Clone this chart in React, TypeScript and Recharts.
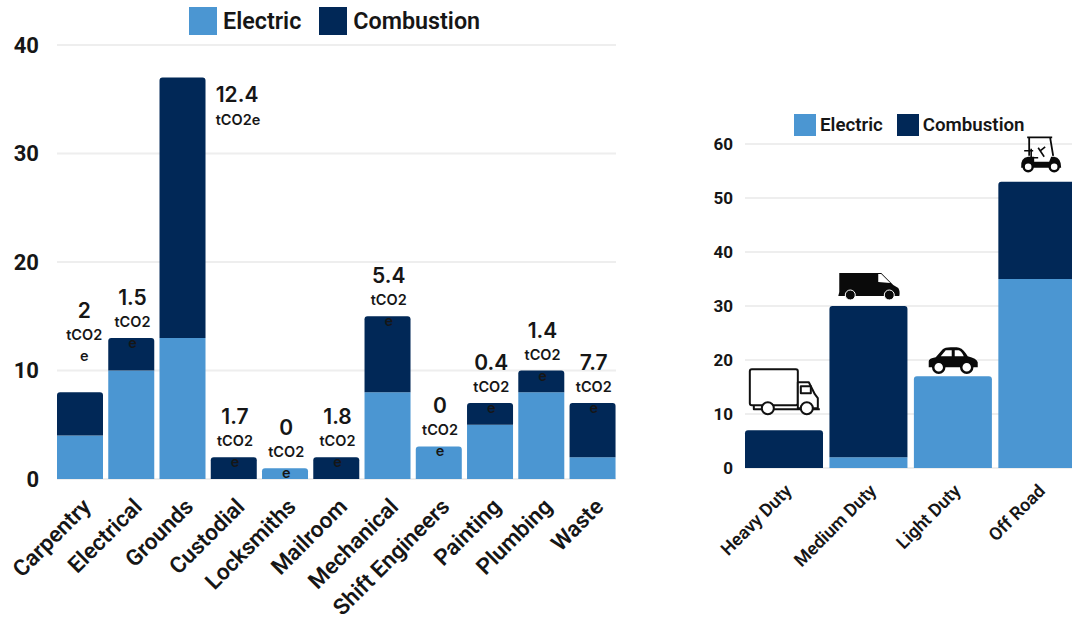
import { Bar, CartesianGrid, ComposedChart, LabelList, Line, Rectangle, XAxis, YAxis } from "recharts"

const ELECTRIC = "#4b96d2"
const COMBUSTION = "#012857"
const INK = "#161616"
const GRID = "#eeeeee"
const FONT = "Roboto, sans-serif"
const LABEL_FONT = "Inter, sans-serif"

// Shops: vehicle counts by powertrain plus emissions per shop
const shops = ["Carpentry", "Electrical", "Grounds", "Custodial", "Locksmiths", "Mailroom", "Mechanical", "Shift Engineers", "Painting", "Plumbing", "Waste"]
const shopElectric = [4, 10, 13, 0, 1, 0, 8, 3, 5, 8, 2]
const shopCombustion = [4, 3, 24, 2, 0, 2, 7, 0, 2, 2, 5]
const shopEmissions = ["2", "1.5", "12.4", "1.7", "0", "1.8", "5.4", "0", "0.4", "1.4", "7.7"]
const shopTicks = [0, 10, 20, 30, 40]

// Fleet by duty class
const duties = ["Heavy Duty", "Medium Duty", "Light Duty", "Off Road"]
const dutyElectric = [0, 2, 17, 35]
const dutyCombustion = [7, 28, 0, 18]
const dutyTicks = [0, 10, 20, 30, 40, 50, 60]

const shopRows = shops.map((name, i) => ({
	name,
	electric: shopElectric[i],
	combustion: shopCombustion[i],
	total: shopElectric[i] + shopCombustion[i],
	emissions: shopEmissions[i],
}))
const dutyRows = duties.map((name, i) => ({
	name,
	electric: dutyElectric[i],
	combustion: dutyCombustion[i],
	total: dutyElectric[i] + dutyCombustion[i],
}))

// Electric sits under combustion, so it only gets a rounded top when nothing is stacked on it
function ElectricShape(props: any) {
	const r = props.payload.combustion === 0 ? 3 : 0
	return <Rectangle {...props} radius={[r, r, 0, 0]} />
}

function LegendRow({ size, fontSize, gap, textGap }: { size: number; fontSize: number; gap: number; textGap: number }) {
	const items = [
		{ label: "Electric", color: ELECTRIC },
		{ label: "Combustion", color: COMBUSTION },
	]
	return (
		<div style={{ display: "flex", alignItems: "center", gap, fontFamily: FONT, fontWeight: 600, fontSize, color: INK }}>
			{items.map((it) => (
				<div key={it.label} style={{ display: "flex", alignItems: "center", gap: textGap }}>
					<span style={{ width: size, height: size, background: it.color, display: "block" }} />
					<span>{it.label}</span>
				</div>
			))}
		</div>
	)
}

function rotatedTick(fontSize: number, dx: number, dy: number) {
	return (props: any) => (
		<text
			x={props.x + dx}
			y={props.y + dy}
			transform={`rotate(-45 ${props.x + dx} ${props.y + dy})`}
			textAnchor="end"
			fontFamily={FONT}
			fontWeight={600}
			fontSize={fontSize}
			fill={INK}
		>
			{props.payload.value}
		</text>
	)
}

// Emissions note above each stack; narrow columns wrap the unit onto two lines
function EmissionsLabel(props: any) {
	const { x, y, value, index } = props
	const name = shops[index]
	const big = { fontFamily: LABEL_FONT, fontWeight: 600, fontSize: 21, fill: INK }
	const small = { fontFamily: LABEL_FONT, fontWeight: 600, fontSize: 14.5, fill: INK }
	if (name === "Grounds") {
		return (
			<g>
				<text x={x + 33} y={y + 24} {...big}>{value}</text>
				<text x={x + 33} y={y + 47} {...small}>tCO2e</text>
			</g>
		)
	}
	// Carpentry's note clears the neighbouring column's label
	const lift = name === "Carpentry" ? 41 : 0
	const cx = x + (name === "Carpentry" ? 4 : 1)
	return (
		<g textAnchor="middle">
			<text x={cx} y={y - 33 - lift} {...big}>{value}</text>
			<text x={cx} y={y - 11 - lift} {...small}>tCO2</text>
			<text x={cx} y={y + 10 - lift} {...small}>e</text>
		</g>
	)
}

function TruckIcon() {
	return (
		<g fill="#fff" stroke="#111" strokeWidth={2} strokeLinejoin="round">
			<rect x={-34} y={-61} width={48} height={36} rx={2} />
			<path d="M14 -48 H25 L31 -36 L34 -32 V-22 H14 Z" />
			<rect x={17} y={-44} width={10} height={7} />
			<path d="M-30 -25 V-21 H36" fill="none" />
			<circle cx={-16} cy={-22} r={6} />
			<circle cx={23} cy={-22} r={6} />
		</g>
	)
}

function VanIcon() {
	return (
		<g fill="#0a0a0a">
			<path d="M-29 -33 H13 L25 -21 L30 -18 Q32 -15 31 -10 H-30 L-29 -14 Z" />
			<path d="M10 -32 H13 L22 -23 L10 -24 Z" fill="#fff" />
			<circle cx={-18} cy={-11} r={5} stroke="#fff" strokeWidth={1} />
			<circle cx={21} cy={-11} r={5} stroke="#fff" strokeWidth={1} />
		</g>
	)
}

function CarIcon() {
	return (
		<g>
			<path d="M-24 -9 V-15 Q-24 -18 -17 -19 L-10 -27 Q-8 -29 -2 -29 H4 Q9 -29 13 -23 L15 -20 Q24 -18 25 -14 V-9 Z" fill="#0a0a0a" />
			<path d="M-12 -20 L-7 -26 H-1 V-20 Z M2 -26 H6 Q9 -25 11 -20 H2 Z" fill="#fff" />
			<circle cx={-14} cy={-9} r={5.5} fill="#fff" stroke="#0a0a0a" strokeWidth={2.5} />
			<circle cx={14} cy={-9} r={5.5} fill="#fff" stroke="#0a0a0a" strokeWidth={2.5} />
		</g>
	)
}

function CartIcon() {
	return (
		<g transform="translate(3 0)">
			<path d="M-13 -44.5 H12 M-11 -44 V-26 M10 -44 L13 -26" stroke="#0a0a0a" strokeWidth={1.8} fill="none" />
			<path d="M-16 -31 H-7 M-9 -33 V-24 H-2 M-2 -34 L4 -25 M0 -31 L5 -35" stroke="#0a0a0a" strokeWidth={1.6} fill="none" />
			<path d="M-19 -14 Q-20 -24 -12 -25 H-6 V-20 H9 L11 -25 H14 Q21 -24 21 -14 Z" fill="#0a0a0a" />
			<circle cx={-12} cy={-15} r={4.5} fill="#fff" stroke="#0a0a0a" strokeWidth={2.4} />
			<circle cx={14} cy={-15} r={4.5} fill="#fff" stroke="#0a0a0a" strokeWidth={2.4} />
		</g>
	)
}

const dutyIcons = [TruckIcon, VanIcon, CarIcon, CartIcon]

function DutyIcon(props: any) {
	const { x, y, index } = props
	const Icon = dutyIcons[index]
	return (
		<g transform={`translate(${x} ${y})`}>
			<Icon />
		</g>
	)
}

export default function App() {
	return (
		<div style={{ position: "fixed", left: 0, top: 0, width: 1072, height: 623, overflow: "hidden", background: "#fff" }}>
			<div style={{ position: "absolute", left: 0, top: 0 }}>
				<ComposedChart width={640} height={623} data={shopRows} barCategoryGap={2.4} margin={{ top: 45, right: 24, left: 0, bottom: 0 }}>
					<CartesianGrid vertical={false} stroke={GRID} strokeWidth={2} />
					<XAxis
						dataKey="name"
						interval={0}
						height={144}
						padding={{ left: -2.4, right: -2.4 }}
						axisLine={false}
						tickLine={false}
						tick={rotatedTick(22.5, 12, 21)}
					/>
					<YAxis
						width={57}
						domain={[0, 40]}
						ticks={shopTicks}
						axisLine={false}
						tickLine={false}
						tick={{ fontFamily: FONT, fontWeight: 700, fontSize: 22, fill: INK }}
						tickMargin={12}
					/>
					<Bar dataKey="electric" stackId="a" fill={ELECTRIC} shape={ElectricShape} isAnimationActive={false} />
					<Bar dataKey="combustion" stackId="a" fill={COMBUSTION} radius={[3, 3, 0, 0]} isAnimationActive={false} />
					{/* Invisible line along the stack tops: it carries a point for every category, zero stacks included */}
					<Line dataKey="total" stroke="none" dot={false} activeDot={false} legendType="none" isAnimationActive={false}>
						<LabelList dataKey="emissions" content={EmissionsLabel} />
					</Line>
				</ComposedChart>
			</div>
			<div style={{ position: "absolute", left: 189, top: 7 }}>
				<LegendRow size={28} fontSize={23.3} gap={18} textGap={6} />
			</div>

			<div style={{ position: "absolute", left: 690, top: 0 }}>
				<ComposedChart width={400} height={623} data={dutyRows} barCategoryGap={3.4} margin={{ top: 144, right: 14, left: 0, bottom: 0 }}>
					<CartesianGrid vertical={false} stroke={GRID} strokeWidth={2} />
					<XAxis
						dataKey="name"
						interval={0}
						height={155}
						padding={{ left: -3.4, right: -3.4 }}
						axisLine={false}
						tickLine={false}
						tick={rotatedTick(18, 9, 16)}
					/>
					<YAxis
						width={55}
						domain={[0, 60]}
						ticks={dutyTicks}
						axisLine={false}
						tickLine={false}
						tick={{ fontFamily: FONT, fontWeight: 700, fontSize: 17, fill: INK }}
						tickMargin={6}
					/>
					<Bar dataKey="electric" stackId="a" fill={ELECTRIC} shape={ElectricShape} isAnimationActive={false} />
					<Bar dataKey="combustion" stackId="a" fill={COMBUSTION} radius={[3, 3, 0, 0]} isAnimationActive={false} />
					<Line dataKey="total" stroke="none" dot={false} activeDot={false} legendType="none" isAnimationActive={false}>
						<LabelList dataKey="name" content={DutyIcon} />
					</Line>
				</ComposedChart>
			</div>
			<div style={{ position: "absolute", left: 794, top: 114 }}>
				<LegendRow size={22} fontSize={18.7} gap={14} textGap={4} />
			</div>
		</div>
	)
}
